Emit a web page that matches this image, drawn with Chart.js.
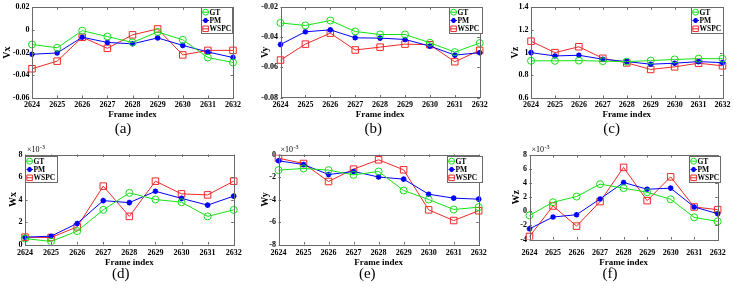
<!DOCTYPE html>
<html><head><meta charset="utf-8">
<script src="https://cdn.jsdelivr.net/npm/chart.js@4"></script>
<style>
html,body{margin:0;padding:0;background:#fff;}
body{width:734px;height:289px;position:relative;overflow:hidden;}
canvas{position:absolute;}
.lab{position:absolute;font-family:"Liberation Serif",serif;font-size:15px;transform:translate(-50%,-50%);white-space:nowrap;color:#000;}
</style></head><body>
<script>
// ---- data ----
const frames = ['2624','2625','2626','2627','2628','2629','2630','2631','2632'];
const seriesNames = ['GT','PM','WSPC'];

const vxGT   = [-0.0128,-0.0157,-0.0006,-0.0058,-0.0110,-0.0017,-0.0087,-0.0243,-0.0287];
const vxPM   = [-0.0214,-0.0203,-0.0064,-0.0110,-0.0122,-0.0070,-0.0136,-0.0194,-0.0243];
const vxWSPC = [-0.0342,-0.0275,-0.0064,-0.0162,-0.0043, 0.0009,-0.0220,-0.0180,-0.0180];

const vyGT   = [-0.0304,-0.0321,-0.0288,-0.0361,-0.0381,-0.0381,-0.0436,-0.0498,-0.0438];
const vyPM   = [-0.0447,-0.0363,-0.0350,-0.0403,-0.0405,-0.0414,-0.0458,-0.0518,-0.0502];
const vyWSPC = [-0.0551,-0.0445,-0.0372,-0.0484,-0.0465,-0.0445,-0.0449,-0.0562,-0.0487];

const vzGT   = [0.928,0.928,0.930,0.925,0.921,0.930,0.940,0.947,0.947];
const vzPM   = [1.000,0.971,0.977,0.942,0.921,0.898,0.907,0.921,0.912];
const vzWSPC = [1.101,1.000,1.052,0.950,0.910,0.852,0.875,0.907,0.884];

// angular values in units of 1e-3
const wxGT   = [0.53,0.27,1.19,3.08,4.59,4.00,3.76,2.50,3.08];
const wxPM   = [0.65,0.74,1.87,3.90,3.72,4.73,4.10,3.50,4.30];
const wxWSPC = [0.65,0.62,1.57,5.19,2.50,5.63,4.50,4.41,5.63];

const wyGT   = [-1.39,-1.24,-1.39,-1.81,-1.51,-3.20,-4.00,-4.89,-4.68];
const wyPM   = [-0.56,-0.89,-1.78,-1.51,-2.00,-2.19,-3.53,-3.88,-3.97];
const wyWSPC = [-0.33,-0.80,-2.40,-1.30,-0.47,-1.36,-4.92,-5.87,-5.00];

const wzGT   = [-0.57,1.29,2.10,3.86,3.29,2.71,1.71,-0.86,-1.43];
const wzPM   = [-2.48,-0.81,-0.48,1.76,4.10,3.14,3.29,0.62,-0.33];
const wzWSPC = [-3.57,0.76,-2.10,1.38,6.24,1.52,4.90,0.62,0.24];

const vxTicks = [-0.06,-0.04,-0.02,0,0.02];
const vyTicks = [-0.08,-0.06,-0.04,-0.02];
const vzTicks = [0.6,0.8,1,1.2,1.4];
const wxTicks = [0,2,4,6,8];
const wyTicks = [-8,-6,-4,-2,0];
const wzTicks = [-4,-2,0,2,4,6,8];

const yTitles = ['Vx','Vy','Vz','Wx','Wy','Wz'];
const panelLabels = ['(a)','(b)','(c)','(d)','(e)','(f)'];

// ---- layout / style ----
const SERIF = '"Liberation Serif", "Times New Roman", serif';
const COLORS = {GT:'rgb(20,225,20)', PM:'rgb(0,0,255)', WSPC:'rgb(240,40,40)'};
const STYLES = {GT:'circle', PM:'star', WSPC:'rect'};
const RADII = {GT:3.5, PM:2.8, WSPC:4.6};
const PBW = {GT:1, PM:1.6, WSPC:1};

const panels = [
  {data:[vxGT,vxPM,vxWSPC], ticks:vxTicks, exp:false, px:0,   py:0,   w:245, ch:120, L:32,    R:233,   T:6,     B:98,    lab:104.3, leg:[201,7,232,33],    ytx:7.3,   pl:[123,127.7]},
  {data:[vyGT,vyPM,vyWSPC], ticks:vyTicks, exp:false, px:245, py:0,   w:245, ch:120, L:280.5, R:482,   T:6,     B:97.5,  lab:104.3, leg:[449,7,482,33],    ytx:265.7, pl:[373.3,127.7]},
  {data:[vzGT,vzPM,vzWSPC], ticks:vzTicks, exp:false, px:490, py:0,   w:244, ch:120, L:531,   R:722.5, T:6,     B:98,    lab:104.3, leg:[691,7,723,33],    ytx:515,   pl:[611.7,127.7]},
  {data:[wxGT,wxPM,wxWSPC], ticks:wxTicks, exp:true,  px:0,   py:145, w:245, ch:123, L:25,    R:236.5, T:154.5, B:244.5, lab:252.3, leg:[25,156,57,182],   ytx:13.3,  pl:[120.7,272.7]},
  {data:[wyGT,wyPM,wyWSPC], ticks:wyTicks, exp:true,  px:245, py:145, w:245, ch:123, L:278.5, R:480.5, T:154.5, B:244.5, lab:252.3, leg:[447,156,482,182], ytx:265.7, pl:[367.3,272.7]},
  {data:[wzGT,wzPM,wzWSPC], ticks:wzTicks, exp:true,  px:490, py:145, w:244, ch:123, L:529.5, R:719.5, T:155,   B:239.5, lab:252.3, leg:[689,156,720,182], ytx:516,   pl:[610,272.7]}
];

function drawMarker(ctx, style, x, y, r, color, bw){
  ctx.save();
  ctx.strokeStyle = color; ctx.lineWidth = bw;
  ctx.beginPath();
  if (style === 'circle') { ctx.arc(x, y, r, 0, Math.PI*2); ctx.stroke(); }
  else if (style === 'rect') { const s = r*Math.SQRT1_2; ctx.rect(x-s, y-s, 2*s, 2*s); ctx.stroke(); }
  else {
    for (let k=0;k<4;k++){ const a = k*Math.PI/4; ctx.moveTo(x-Math.cos(a)*r, y-Math.sin(a)*r); ctx.lineTo(x+Math.cos(a)*r, y+Math.sin(a)*r); }
    ctx.stroke();
  }
  ctx.restore();
}

const boxPlugin = {
  id:'matlabBox',
  afterDatasetsDraw(chart){
    const {ctx, chartArea:a, scales:{x, y}} = chart;
    const P = chart.options.plugins.matlabBox;
    ctx.save();
    ctx.strokeStyle = '#6a6a6a'; ctx.lineWidth = 1;
    ctx.strokeRect(Math.round(a.left)+0.5, Math.round(a.top)+0.5, Math.round(a.right-a.left), Math.round(a.bottom-a.top));
    const tl = 2.5;
    ctx.beginPath();
    x.ticks.forEach((t,i)=>{ const p = Math.round(x.getPixelForTick(i))+0.5;
      ctx.moveTo(p, a.bottom); ctx.lineTo(p, a.bottom-tl); ctx.moveTo(p, a.top); ctx.lineTo(p, a.top+tl); });
    y.ticks.forEach((t,i)=>{ const p = Math.round(y.getPixelForTick(i))+0.5;
      ctx.moveTo(a.left, p); ctx.lineTo(a.left+tl, p); ctx.moveTo(a.right, p); ctx.lineTo(a.right-tl, p); });
    ctx.stroke();
    // legend
    const [gx0, gy0, gx1, gy1] = P.leg;
    const x0 = gx0 - P.px, y0 = gy0 - P.py, x1 = gx1 - P.px, y1 = gy1 - P.py;
    ctx.fillStyle = '#fff';
    ctx.fillRect(x0, y0, x1-x0, y1-y0);
    ctx.strokeStyle = '#6a6a6a';
    ctx.strokeRect(Math.round(x0)+0.5, Math.round(y0)+0.5, Math.round(x1-x0), Math.round(y1-y0));
    ctx.font = 'bold 7.5px ' + SERIF;
    ctx.textBaseline = 'middle'; ctx.textAlign = 'left';
    chart.data.datasets.forEach((ds, i) => {
      const ry = y0 + 5.2 + i*8.3;
      ctx.strokeStyle = ds.borderColor; ctx.lineWidth = 1;
      ctx.beginPath(); ctx.moveTo(x0+1.5, ry); ctx.lineTo(x0+8, ry); ctx.stroke();
      drawMarker(ctx, ds.pointStyle, x0+4.6, ry, ds.pointRadius*0.85, ds.borderColor, ds.pointBorderWidth);
      ctx.fillStyle = '#000';
      ctx.fillText(ds.label, x0+8.5, ry+0.5);
    });
    // exponent
    if (P.exp) {
      const ex = a.left + 2, ey = 150 - P.py;
      ctx.fillStyle = '#000';
      ctx.font = '8px ' + SERIF;
      ctx.textBaseline = 'middle';
      ctx.fillText('\u00d710', ex, ey);
      const w = ctx.measureText('\u00d710').width;
      ctx.font = '6px ' + SERIF;
      ctx.fillText('-3', ex + w + 0.5, ey - 3);
    }
    ctx.restore();
  }
};

panels.forEach((P, idx) => {
  const cv = document.createElement('canvas');
  cv.width = P.w; cv.height = P.ch;
  cv.style.left = P.px + 'px'; cv.style.top = P.py + 'px';
  cv.style.width = P.w + 'px'; cv.style.height = P.ch + 'px';
  document.body.appendChild(cv);

  const lab = document.createElement('div');
  lab.className = 'lab';
  lab.textContent = panelLabels[idx];
  lab.style.left = P.pl[0] + 'px'; lab.style.top = P.pl[1] + 'px';
  document.body.appendChild(lab);

  const datasets = seriesNames.map((n, k) => ({
    label: n,
    data: P.data[k],
    borderColor: COLORS[n],
    backgroundColor: 'rgba(0,0,0,0)',
    pointBackgroundColor: 'rgba(0,0,0,0)',
    pointBorderColor: COLORS[n],
    pointStyle: STYLES[n],
    pointRadius: RADII[n],
    pointBorderWidth: PBW[n],
    borderWidth: 1,
    tension: 0,
    fill: false
  }));

  const tk = P.ticks;
  new Chart(cv, {
    type: 'line',
    data: { labels: frames, datasets },
    plugins: [boxPlugin],
    options: {
      responsive: false,
      animation: false,
      devicePixelRatio: 1,
      layout: { padding: { left: 0, top: P.T - P.py, right: P.w - (P.R - P.px), bottom: 0 } },
      plugins: {
        legend: { display: false },
        tooltip: { enabled: false },
        matlabBox: { leg: P.leg, px: P.px, py: P.py, exp: P.exp }
      },
      scales: {
        x: {
          type: 'category',
          offset: false,
          grid: { display: false, drawTicks: false, tickLength: 0 },
          border: { display: false },
          ticks: { font: { family: SERIF, size: 8, weight: 'bold' }, color: '#000', padding: Math.max(0, P.lab - P.B - 4.5), maxRotation: 0, autoSkip: false },
          title: { display: true, text: 'Frame index', font: { family: SERIF, size: 9, weight: 'bold' }, color: '#000', padding: { top: 0, bottom: 0 } },
          afterFit: (s) => { s.height = P.ch - (P.B - P.py); }
        },
        y: {
          type: 'linear',
          min: tk[0], max: tk[tk.length - 1],
          grid: { display: false, drawTicks: false, tickLength: 0 },
          border: { display: false },
          afterBuildTicks: (s) => { s.ticks = tk.map(v => ({ value: v })); },
          ticks: { font: { family: SERIF, size: 8, weight: 'bold' }, color: '#000', padding: 2.5,
                   callback: (v) => String(+Number(v).toFixed(4)) },
          title: { display: true, text: yTitles[idx], font: { family: SERIF, size: 10, weight: 'bold' }, color: '#000',
                   padding: { top: Math.max(0, P.ytx - P.px - 6), bottom: 0 } },
          afterFit: (s) => { s.width = P.L - P.px; }
        }
      }
    }
  });
});
</script>
</body></html>
